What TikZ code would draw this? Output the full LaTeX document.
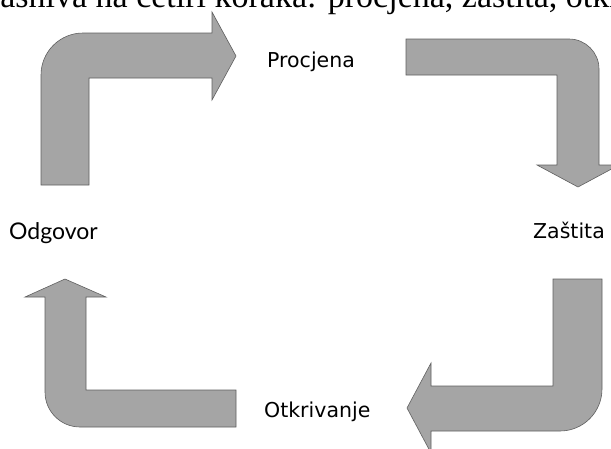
\documentclass[tikz,border=0pt]{standalone}
\usepackage{fontspec}
\usepackage{tikz}
\setmainfont{Liberation Serif}
\newfontfamily\stepfont{DejaVu Sans}
\newfontfamily\latofont{Lato}
\definecolor{arrowfill}{HTML}{A5A5A5}
\definecolor{arrowline}{HTML}{5F5F5F}

\begin{document}
\begin{tikzpicture}[x=1pt, y=-1pt, bentarrow/.style={fill=arrowfill, draw=arrowline, line width=0.6pt, line join=miter}, every node/.style={inner sep=0pt, anchor=base west}, steplabel/.style={font=\stepfont\fontsize{20.5}{24}\selectfont}]
        \clip (0,0) rectangle (611,448);

        % cut-off line of the running text above the figure
        \node (lead) [font=\fontsize{34}{40}\selectfont] at (-15,7) {zasniva na četiri koraka: procjena, zaštita, otkrivanje};

        % odgovor -> procjena
        \draw[bentarrow] (41,185) -- (41,75) arc[start angle=180, end angle=270, radius=42] -- (212,33) -- (212,12) -- (236,56) -- (212,100) -- (212,78) -- (89,78) -- (89,185) -- cycle;

        % procjena -> zastita
        \draw[bentarrow] (406,39) -- (569,39) arc[start angle=270, end angle=360, radius=30] -- (599,165) -- (619,165) -- (578,187) -- (537,165) -- (557,165) -- (557,75) -- (406,75) -- cycle;

        % zastita -> otkrivanje
        \draw[bentarrow] (553,279) -- (602,279) -- (602,389) arc[start angle=0, end angle=90, radius=42] -- (431,431) -- (431,453) -- (407,408) -- (431,363) -- (431,386) -- (553,386) -- cycle;

        % otkrivanje -> odgovor
        \draw[bentarrow] (236,390) -- (236,427) -- (80,427) arc[start angle=90, end angle=180, radius=35] -- (45,297) -- (25,297) -- (65,279) -- (106,297) -- (86,297) -- (86,390) -- cycle;

        \node (procjena) [steplabel] at (267,67) {Procjena};
        \node (zastita) [steplabel] at (533,238) {Zaštita};
        \node (odgovor) [font=\latofont\fontsize{23}{27}\selectfont] at (9,239) {Odgovor};
        \node (otkrivanje) [steplabel] at (264,417) {Otkrivanje};
    \end{tikzpicture}
\end{document}
